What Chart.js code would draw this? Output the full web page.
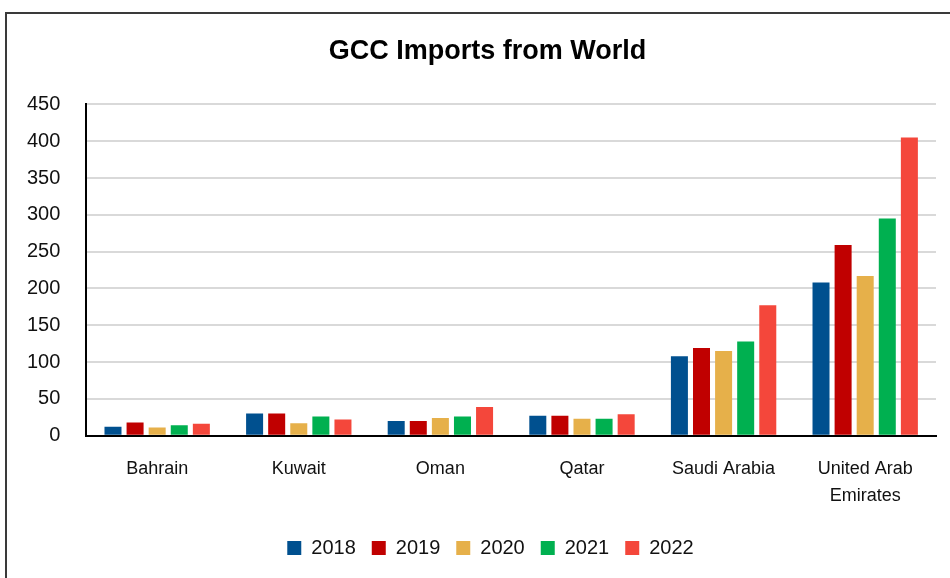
<!DOCTYPE html>
<html>
<head>
<meta charset="utf-8">
<script src="https://cdn.jsdelivr.net/npm/chart.js@4.4.0/dist/chart.umd.min.js"></script>
<style>
    body { margin: 0; background: #fff; }
    #marco {
        position: absolute; left: 5px; top: 12px; width: 980px; height: 600px;
        border: 2px solid #3a3a3a; box-sizing: border-box;
    }
    #contenedor { position: absolute; left: 0; top: 0; width: 950px; height: 578px; }
</style>
</head>
<body>
<div id="marco"></div>
<div id="contenedor"><canvas id="graficoImportaciones"></canvas></div>
<script>
// paises del GCC
var paises = ["Bahrain", "Kuwait", "Oman", "Qatar", "Saudi Arabia", ["United Arab", "Emirates"]];
var anios = ["2018", "2019", "2020", "2021", "2022"];

// importaciones por año
var imp2018 = [12, 30, 20, 27, 108, 208];
var imp2019 = [18, 30, 20, 27, 119, 259];
var imp2020 = [11, 17, 24, 23, 115, 217];
var imp2021 = [14, 26, 26, 23, 128, 295];
var imp2022 = [16, 22, 39, 29, 177, 405];

var ticksY = [0, 50, 100, 150, 200, 250, 300, 350, 400, 450];

var colores = ['#00508F', '#C00000', '#E6B04A', '#00B050', '#F4473B'];

var series = [imp2018, imp2019, imp2020, imp2021, imp2022];
var datasets = [];
series.forEach((valores, i) => {
    datasets.push({
        label: anios[i],
        data: valores,
        backgroundColor: colores[i],
        categoryPercentage: 0.78,
        barPercentage: 0.77
    });
});

var fuente = "'Liberation Sans', Arial, sans-serif";

// titulo y leyenda del original estan un poco corridos a la derecha
var moverCajas = {
    id: 'moverCajas',
    afterLayout: function (chart) {
        chart.legend.left += 22;
        chart.legend.right += 22;
        chart.titleBlock.left += 19;
        chart.titleBlock.right += 19;
    }
};

var canvas = document.getElementById("graficoImportaciones");
var grafico = new Chart(canvas, {
    type: 'bar',
    data: {
        labels: paises,
        datasets: datasets
    },
    plugins: [moverCajas],
    options: {
        responsive: true,
        maintainAspectRatio: false,
        animation: false,
        layout: {
            padding: { left: 1, right: 14, top: 10, bottom: 10 }
        },
        plugins: {
            title: {
                display: true,
                text: 'GCC Imports from World',
                color: '#000',
                font: { family: fuente, size: 27, weight: 'bold' },
                padding: { top: 25, bottom: 37 }
            },
            legend: {
                position: 'bottom',
                labels: {
                    color: '#111',
                    font: { family: fuente, size: 20 },
                    boxWidth: 14,
                    boxHeight: 14,
                    padding: 16
                }
            },
            tooltip: { enabled: false }
        },
        scales: {
            x: {
                grid: { display: false },
                border: { color: '#000', width: 2 },
                ticks: {
                    color: '#111',
                    font: { family: fuente, size: 18, lineHeight: 1.51 },
                    padding: 12,
                    maxRotation: 0,
                    autoSkip: false
                }
            },
            y: {
                min: 0,
                max: 450,
                afterBuildTicks: function (eje) {
                    eje.ticks = ticksY.map(v => ({ value: v }));
                },
                grid: { color: '#d9d9d9', lineWidth: 2, drawTicks: false },
                border: { color: '#000', width: 2 },
                ticks: {
                    color: '#111',
                    font: { family: fuente, size: 20 },
                    padding: 26
                }
            }
        }
    }
});
</script>
</body>
</html>
